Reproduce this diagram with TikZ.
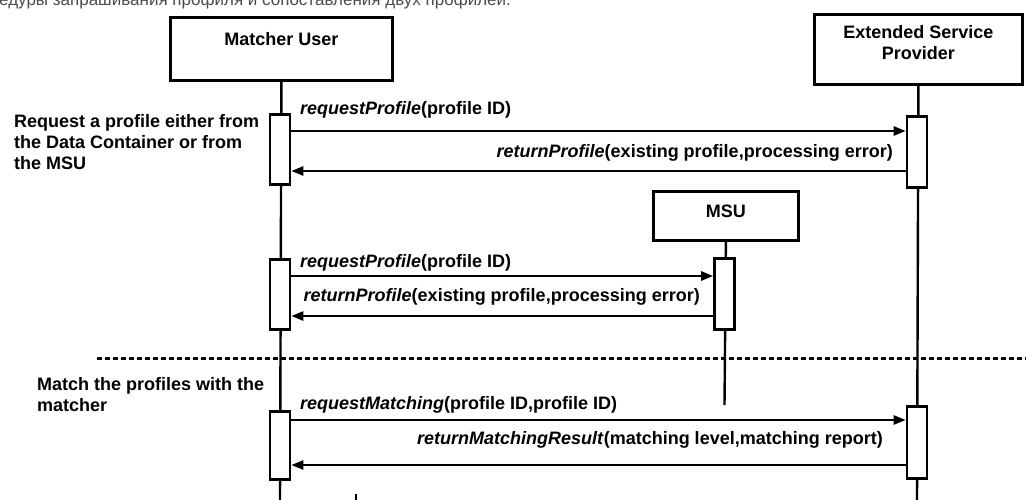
\documentclass[tikz,border=0pt]{standalone}
\usepackage{fontspec}
\setmainfont{Liberation Sans}
\usetikzlibrary{arrows.meta,positioning}

\begin{document}
\begin{tikzpicture}[line join=miter,>={Triangle[length=12pt,width=9pt]},x=1pt,y=-1pt,
		obj/.style={draw,line width=2.8pt,inner sep=0pt,anchor=north west},
		act/.style={draw,fill=white,line width=2.6pt,minimum width=20pt,inner sep=0pt,anchor=north},
		life/.style={line width=2.4pt},
		msg/.style={->,line width=2.4pt},
		lbl/.style={font=\fontsize{18}{21}\bfseries\selectfont,inner sep=0pt},
		note/.style={lbl,align=left,anchor=north west}]
	\useasboundingbox (0,0) rectangle (1026,500);
	\clip (0,0) rectangle (1026,500);
	\node[anchor=base west,inner sep=0pt,font=\fontsize{17}{20}\selectfont,text=black!70] (cap) at (-1,5.5) {едуры запрашивания профиля и сопоставления двух профилей.};
	\node[obj,minimum width=222pt,minimum height=63pt] (mu) at (169,16) {};
	\node[lbl,below=16pt of mu.north] (mut) {Matcher User};
	\node[obj,minimum width=208pt,minimum height=70pt] (esp) at (813,13) {};
	\node[lbl,align=center,below=12pt of esp.north] (espt) {Extended Service\\Provider};
	\node[obj,minimum width=145pt,minimum height=49pt] (msu) at (652,190) {};
	\node[lbl,below=15pt of msu.north] (msut) {MSU};
	\coordinate (mu end) at (280,500);
	\coordinate (esp end) at (917,500);
	\coordinate (msu end) at (724.5,405);
	\draw[life] (mu.south) -- (mu end);
	\draw[life] (esp.south) -- (esp end);
	\draw[life] (msu.south) -- (msu end);
	\draw[line width=3pt,dash pattern=on 5pt off 3pt] (97,358) -- (1026,358);
	\draw[line width=2.4pt] (356,494) -- (356,500);
	\node[act,minimum height=70pt] (mu1) at (280,113) {};
	\node[act,minimum height=70pt] (mu2) at (280,258) {};
	\node[act,minimum height=68pt] (mu3) at (280,410) {};
	\node[act,minimum height=71pt] (esp1) at (917,115) {};
	\node[act,minimum height=72pt] (esp3) at (917,405) {};
	\node[act,minimum height=71pt] (msu1) at (724.5,257) {};
	\draw[msg] (mu1.east |- 0,131) -- (esp1.west |- 0,131);
	\draw[msg] (esp1.west |- 0,171) -- (mu1.east |- 0,171);
	\draw[msg] (mu2.east |- 0,276) -- (msu1.west |- 0,276);
	\draw[msg] (msu1.west |- 0,316) -- (mu2.east |- 0,316);
	\draw[msg] (mu3.east |- 0,420) -- (esp3.west |- 0,420);
	\draw[msg] (esp3.west |- 0,465) -- (mu3.east |- 0,465);
	\node[lbl,anchor=west] (m1) at (300,110) {\textit{requestProfile}(profile ID)};
	\node[lbl,anchor=east] (m2) at (893,153) {\textit{returnProfile}(existing profile,processing error)};
	\node[lbl,anchor=west] (m3) at (300,263) {\textit{requestProfile}(profile ID)};
	\node[lbl,anchor=east] (m4) at (700,297) {\textit{returnProfile}(existing profile,processing error)};
	\node[lbl,anchor=west] (m5) at (300,405) {\textit{requestMatching}(profile ID,profile ID)};
	\node[lbl,anchor=east] (m6) at (883,440) {\textit{returnMatchingResult}(matching level,matching report)};
	\node[note] (n1) at (14,114) {Request a profile either from\\the Data Container or from\\the MSU};
	\node[note] (n2) at (37,377) {Match the profiles with the\\matcher};
\end{tikzpicture}
\end{document}
